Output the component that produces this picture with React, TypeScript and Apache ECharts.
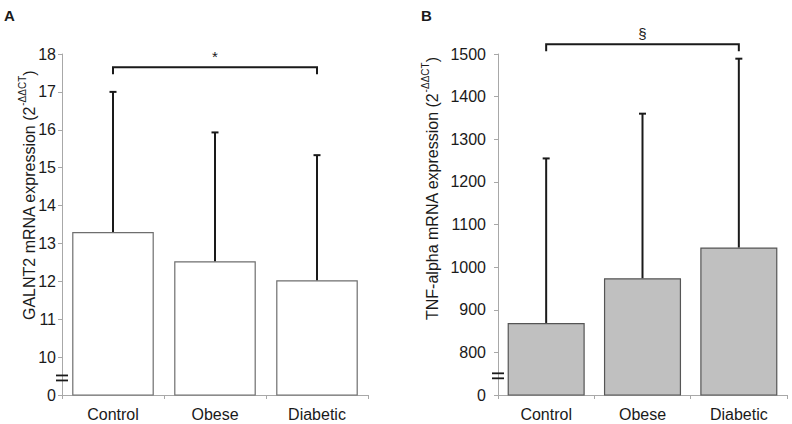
import React, { useEffect, useRef } from "react";
import * as echarts from "echarts";

// ---- data ----
const categories = ["Control", "Obese", "Diabetic"];
const galnt2Mean = [13.3, 12.53, 12.03];
const galnt2Upper = [17.0, 15.93, 15.33];
const tnfMean = [869, 974, 1046];
const tnfUpper = [1255, 1360, 1489];

// broken axes: bottom tick stands for 0, then the scale resumes
const galnt2AxisMin = 9;
const galnt2AxisMax = 18;
const galnt2Interval = 1;
const tnfAxisMin = 700;
const tnfAxisMax = 1500;
const tnfInterval = 100;
const brokenTickLabel = "0";

// significance brackets: [fromIndex, toIndex, level]
const galnt2Bracket = [0, 2, 17.65];
const galnt2BracketLabel = "*";
const tnfBracket = [0, 2, 1523];
const tnfBracketLabel = "§";

const FONT = "'Liberation Sans', Arial, Helvetica, sans-serif";
const AXIS_GRAY = "#a8a8a8";
const INK = "#1a1a1a";

function errorBars(idx: number, means: number[], uppers: number[]) {
  return {
    type: "custom",
    xAxisIndex: idx,
    yAxisIndex: idx,
    clip: false,
    z: 5,
    data: means.map((m, i) => [i, m, uppers[i]]),
    encode: { x: 0, y: [1, 2] },
    renderItem: (params: any, api: any) => {
      const base = api.coord([api.value(0), api.value(1)]);
      const top = api.coord([api.value(0), api.value(2)]);
      return {
        type: "group",
        children: [
          {
            type: "line",
            shape: { x1: base[0], y1: base[1], x2: top[0], y2: top[1] },
            style: { stroke: INK, lineWidth: 2 },
          },
          {
            type: "line",
            shape: { x1: top[0] - 3.5, y1: top[1], x2: top[0] + 3.5, y2: top[1] },
            style: { stroke: INK, lineWidth: 2 },
          },
        ],
      };
    },
  };
}

function bracket(idx: number, b: number[], label: string) {
  return {
    type: "custom",
    xAxisIndex: idx,
    yAxisIndex: idx,
    clip: false,
    z: 6,
    data: [b],
    encode: { x: [0, 1], y: 2 },
    renderItem: (params: any, api: any) => {
      const p1 = api.coord([api.value(0), api.value(2)]);
      const p2 = api.coord([api.value(1), api.value(2)]);
      return {
        type: "group",
        children: [
          {
            type: "polyline",
            shape: {
              points: [
                [p1[0], p1[1] + 7],
                [p1[0], p1[1]],
                [p2[0], p2[1]],
                [p2[0], p2[1] + 7],
              ],
            },
            style: { stroke: INK, lineWidth: 2, fill: "none" },
          },
          {
            type: "text",
            x: (p1[0] + p2[0]) / 2,
            y: p1[1] - 11,
            style: {
              text: label,
              fontSize: 15,
              fontFamily: FONT,
              fill: INK,
              align: "center",
              verticalAlign: "middle",
            },
          },
        ],
      };
    },
  };
}

function breakMark(idx: number, value: number) {
  return {
    type: "custom",
    xAxisIndex: idx,
    yAxisIndex: idx,
    clip: false,
    z: 7,
    data: [[0, value]],
    encode: { x: 0, y: 1 },
    renderItem: (params: any, api: any) => {
      const p = api.coord([0, api.value(1)]);
      const x = params.coordSys.x;
      return {
        type: "group",
        children: [
          { type: "line", shape: { x1: x - 6, y1: p[1] - 2.5, x2: x + 6, y2: p[1] - 2.5 }, style: { stroke: INK, lineWidth: 1.8 } },
          { type: "line", shape: { x1: x - 6, y1: p[1] + 2.5, x2: x + 6, y2: p[1] + 2.5 }, style: { stroke: INK, lineWidth: 1.8 } },
        ],
      };
    },
  };
}

function xAxisOf(idx: number) {
  return {
    type: "category",
    gridIndex: idx,
    data: categories,
    axisLine: { show: true, lineStyle: { color: AXIS_GRAY, width: 1 } },
    axisTick: { show: true, length: 4, lineStyle: { color: AXIS_GRAY } },
    axisLabel: { fontSize: 16, color: INK, fontFamily: FONT, margin: 11 },
    splitLine: { show: false },
  };
}

function yAxisOf(idx: number, min: number, max: number, interval: number, margin: number) {
  return {
    type: "value",
    gridIndex: idx,
    min,
    max,
    interval,
    axisLine: { show: true, lineStyle: { color: AXIS_GRAY, width: 1 } },
    axisTick: { show: true, length: 4, lineStyle: { color: AXIS_GRAY } },
    splitLine: { show: false },
    axisLabel: {
      fontSize: 16,
      color: INK,
      fontFamily: FONT,
      margin,
      formatter: (v: number) => (v === min ? brokenTickLabel : String(v)),
    },
  };
}

function axisName(x: number, y: number, main: string) {
  return {
    type: "text",
    x,
    y,
    rotation: Math.PI / 2,
    style: {
      text: `{n|${main} (2}{s|-ΔΔCT}{n|)}`,
      align: "left",
      verticalAlign: "middle",
      fill: INK,
      rich: {
        n: { fontSize: 16, fontFamily: FONT, fill: INK, lineHeight: 20, verticalAlign: "bottom" },
        s: { fontSize: 10, fontFamily: FONT, fill: INK, lineHeight: 20, verticalAlign: "top" },
      },
    },
  };
}

export default function App() {
  const ref = useRef<HTMLDivElement>(null);
  useEffect(() => {
    if (!ref.current) return;
    const chart = echarts.init(ref.current, undefined, { renderer: "svg" });
    chart.setOption({
      animation: false,
      backgroundColor: "#ffffff",
      grid: [
        { left: 62, top: 54, width: 306, height: 341 },
        { left: 498, top: 54, width: 289, height: 341 },
      ],
      xAxis: [xAxisOf(0), xAxisOf(1)],
      yAxis: [
        yAxisOf(0, galnt2AxisMin, galnt2AxisMax, galnt2Interval, 6),
        yAxisOf(1, tnfAxisMin, tnfAxisMax, tnfInterval, 12),
      ],
      graphic: [
        { type: "text", x: 4, y: 8, style: { text: "A", fontSize: 15, fontWeight: "bold", fontFamily: FONT, fill: INK } },
        { type: "text", x: 421, y: 8, style: { text: "B", fontSize: 15, fontWeight: "bold", fontFamily: FONT, fill: INK } },
        axisName(27, 320, "GALNT2 mRNA expression"),
        axisName(430, 320, "TNF-alpha mRNA expression"),
      ],
      series: [
        {
          type: "bar",
          xAxisIndex: 0,
          yAxisIndex: 0,
          data: galnt2Mean,
          barWidth: "80%",
          clip: true,
          itemStyle: { color: "#ffffff", borderColor: "#6e6e6e", borderWidth: 1.2 },
        },
        {
          type: "bar",
          xAxisIndex: 1,
          yAxisIndex: 1,
          data: tnfMean,
          barWidth: "80%",
          clip: true,
          itemStyle: { color: "#c0c0c0", borderColor: "#555555", borderWidth: 1.2 },
        },
        errorBars(0, galnt2Mean, galnt2Upper),
        errorBars(1, tnfMean, tnfUpper),
        bracket(0, galnt2Bracket, galnt2BracketLabel),
        bracket(1, tnfBracket, tnfBracketLabel),
        breakMark(0, galnt2AxisMin + 0.45 * galnt2Interval),
        breakMark(1, tnfAxisMin + 0.45 * tnfInterval),
      ],
    });
    return () => chart.dispose();
  }, []);
  return (
    <div
      ref={ref}
      style={{ position: "fixed", left: 0, top: 0, width: 792, height: 424, background: "#fff" }}
    />
  );
}
